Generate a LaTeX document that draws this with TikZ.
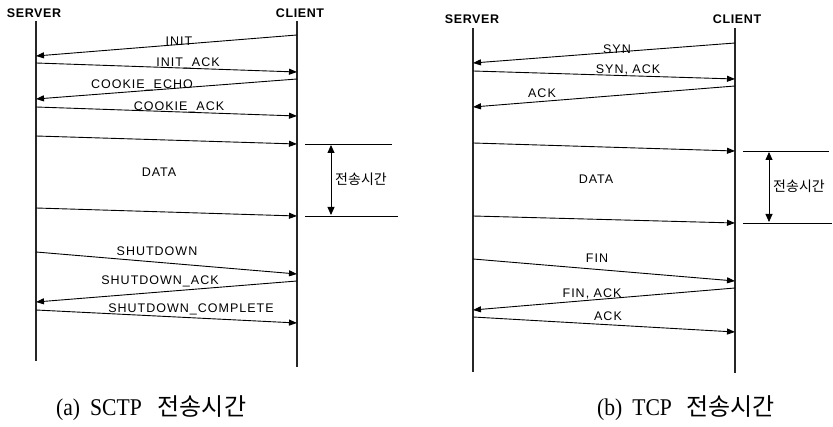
\documentclass[tikz,border=0pt]{standalone}
\usepackage{fontspec}
\setmainfont{Liberation Sans}
\newfontfamily\krfont{Noto Sans CJK KR}
\newfontfamily\capfont[FakeStretch=0.9]{Liberation Serif}
\usetikzlibrary{arrows.meta}

\newcommand{\jstime}{{\krfont 전송시간}}

\begin{document}
\begin{tikzpicture}[x=1pt,y=-1pt,
  life/.style={line width=1.4pt,black!85},
  msg/.style={line width=0.9pt,-{Triangle[length=8pt,width=6pt]}},
  tickln/.style={line width=0.8pt},
  spanarr/.style={line width=0.8pt,{Triangle[length=8pt,width=7pt]}-{Triangle[length=8pt,width=7pt]}},
  lbl/.style={inner sep=0pt,font=\fontsize{12.5}{13}\selectfont\addfontfeature{LetterSpace=8}},
  hd/.style={inner sep=0pt,font=\bfseries\fontsize{12.5}{13}\selectfont\addfontfeature{LetterSpace=5}},
  tm/.style={inner sep=0pt,font=\krfont\fontsize{14}{15}\selectfont},
  captxt/.style={inner sep=0pt,anchor=base west,font=\capfont\fontsize{24}{26}\selectfont}]
\useasboundingbox (0,0) rectangle (833,427);

% (a) SCTP
\node[hd] (srvA) at (34,13) {SERVER};
\node[hd] (cliA) at (300,13) {CLIENT};
\coordinate (sAt) at (36,21);
\coordinate (sAb) at (36,361);
\coordinate (cAt) at (297,21);
\coordinate (cAb) at (297,367);
\draw[life] (sAt) -- (sAb);
\draw[life] (cAt) -- (cAb);

\foreach \i/\ys/\yc in {1/56/35,2/63/72,3/99/79,4/107/116,5/136/144,6/208/216,7/252/274,8/302/281,9/310/323}{
  \coordinate (as\i) at (36,\ys);
  \coordinate (ac\i) at (297,\yc);
}
\foreach \a/\b in {ac1/as1,as2/ac2,ac3/as3,as4/ac4,as5/ac5,as6/ac6,as7/ac7,ac8/as8,as9/ac9}
  \draw[msg] (\a) -- (\b);

\node[lbl] (init) at (179,41) {INIT};
\node[lbl] (initack) at (188,63) {INIT\_ACK};
\node[lbl] (echo) at (142,85) {COOKIE\_ECHO};
\node[lbl] (cack) at (179,107) {COOKIE\_ACK};
\node[lbl] (dataA) at (159,172) {DATA};
\node[lbl] (shut) at (157,251) {SHUTDOWN};
\node[lbl] (shutack) at (160,281) {SHUTDOWN\_ACK};
\node[lbl] (shutcmp) at (191,309) {SHUTDOWN\_COMPLETE};

% time span
\coordinate (ta1) at (305,144);
\coordinate (ta2) at (392,144);
\coordinate (ta3) at (305,216);
\coordinate (ta4) at (398,216);
\coordinate (tau) at (331,145);
\coordinate (tad) at (331,215);
\draw[tickln] (ta1) -- (ta2);
\draw[tickln] (ta3) -- (ta4);
\draw[spanarr] (tau) -- (tad);
\node[tm] (timeA) at (361,179) {\jstime};

\node[captxt] (capA) at (56,416) {(a)\hspace{10pt}SCTP\hspace{16pt}\jstime};

% (b) TCP
\node[hd] (srvB) at (472,19) {SERVER};
\node[hd] (cliB) at (737,19) {CLIENT};
\coordinate (sBt) at (473,28);
\coordinate (sBb) at (473,372);
\coordinate (cBt) at (735,28);
\coordinate (cBb) at (735,373);
\draw[life] (sBt) -- (sBb);
\draw[life] (cBt) -- (cBb);

\foreach \i/\ys/\yc in {1/63/43,2/71/79,3/107/86,4/143/151,5/216/223,6/259/281,7/310/288,8/317/332}{
  \coordinate (bs\i) at (473,\ys);
  \coordinate (bc\i) at (735,\yc);
}
\foreach \a/\b in {bc1/bs1,bs2/bc2,bc3/bs3,bs4/bc4,bs5/bc5,bs6/bc6,bc7/bs7,bs8/bc8}
  \draw[msg] (\a) -- (\b);

\node[lbl] (syn) at (617,49) {SYN};
\node[lbl] (synack) at (628,70) {SYN, ACK};
\node[lbl] (ack) at (542,93) {ACK};
\node[lbl] (dataB) at (596,179) {DATA};
\node[lbl] (fin) at (597,258) {FIN};
\node[lbl] (finack) at (592,294) {FIN, ACK};
\node[lbl] (lastack) at (608,316) {ACK};

% time span
\coordinate (tb1) at (743,151);
\coordinate (tb2) at (829,151);
\coordinate (tb3) at (743,223);
\coordinate (tb4) at (832,223);
\coordinate (tbu) at (769,152);
\coordinate (tbd) at (769,222);
\draw[tickln] (tb1) -- (tb2);
\draw[tickln] (tb3) -- (tb4);
\draw[spanarr] (tbu) -- (tbd);
\node[tm] (timeB) at (799,186) {\jstime};

\node[captxt] (capB) at (597,416) {(b)\hspace{10pt}TCP\hspace{14pt}\jstime};
\end{tikzpicture}
\end{document}
